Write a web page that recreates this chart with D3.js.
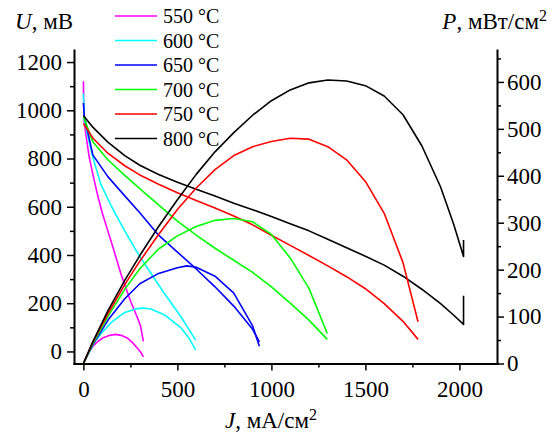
<!DOCTYPE html>
<html>
<head>
<meta charset="utf-8">
<script src="https://cdn.jsdelivr.net/npm/d3@7"></script>
<style>
  body { margin: 0; background: #fff; }
  svg text { font-family: "Liberation Serif", "Times New Roman", Times, serif; }
</style>
</head>
<body>
<div class="plot"></div>
<script>
"use strict";

// temperatures (legend) and line colours
const temps = ["550 °C", "600 °C", "650 °C", "700 °C", "750 °C", "800 °C"];
const colors = ["#FF00FF", "#00FFFF", "#0000FF", "#00FF00", "#FF0000", "#000000"];

// U(J) curves, mV vs mA/cm2
const jU550 = [0, 3, 15, 30, 50, 75, 100, 130, 160, 200, 250, 290, 305, 319];
const u550 = [1120, 960, 890, 810, 735, 650, 575, 500, 425, 320, 210, 135, 102, 42];
const jU600 = [0, 5, 30, 56, 92, 150, 216, 287, 359, 430, 519, 597];
const u600 = [1070, 960, 870, 790, 695, 600, 505, 410, 324, 241, 144, 47];
const jU650 = [0, 5, 50, 130, 220, 300, 400, 500, 600, 700, 800, 900, 936];
const u650 = [1030, 975, 815, 725, 645, 575, 482, 412, 342, 268, 188, 92, 40];
const jU700 = [0, 50, 130, 220, 300, 400, 500, 600, 700, 800, 900, 1000, 1100, 1200, 1297];
const u700 = [975, 870, 795, 730, 675, 608, 540, 482, 428, 378, 328, 268, 200, 130, 50];
const jU750 = [0, 50, 130, 220, 300, 400, 500, 600, 700, 800, 900, 1000, 1100, 1200, 1300, 1400, 1500, 1600, 1700, 1780];
const u750 = [945, 885, 822, 770, 732, 693, 658, 626, 595, 562, 525, 482, 440, 398, 355, 310, 260, 198, 125, 50];
const jU800 = [0, 50, 130, 220, 300, 400, 500, 600, 700, 800, 900, 1000, 1100, 1200, 1300, 1400, 1500, 1600, 1700, 1800, 1900, 1970, 2022, 2022];
const u800 = [978, 930, 868, 812, 772, 734, 702, 673, 645, 615, 588, 560, 530, 500, 465, 430, 395, 358, 312, 258, 198, 150, 112, 231];

// P(J) curves, mW/cm2 vs mA/cm2
const jP550 = [0, 15, 30, 53, 80, 106, 140, 170, 200, 231, 260, 284, 305, 319];
const p550 = [0, 14, 25, 38, 48, 55, 60, 62, 60, 55, 45, 34, 24, 14];
const jP600 = [0, 56, 92, 150, 216, 287, 320, 359, 430, 519, 560, 597];
const p600 = [0, 44, 63, 88, 108, 117, 118, 116, 104, 76, 55, 29];
const jP650 = [0, 50, 130, 220, 300, 400, 500, 550, 600, 700, 800, 900, 936];
const p650 = [0, 40, 92, 138, 170, 192, 204, 208, 205, 186, 150, 80, 37];
const jP700 = [0, 50, 130, 220, 300, 400, 500, 600, 700, 800, 900, 1000, 1100, 1200, 1297];
const p700 = [0, 42, 100, 158, 202, 244, 272, 292, 305, 309, 302, 275, 225, 160, 64];
const jP750 = [0, 50, 130, 220, 300, 400, 500, 600, 700, 800, 900, 1000, 1100, 1200, 1300, 1400, 1500, 1600, 1700, 1780];
const p750 = [0, 45, 106, 168, 218, 275, 328, 374, 413, 443, 462, 473, 480, 478, 462, 434, 388, 320, 215, 89];
const jP800 = [0, 50, 130, 220, 300, 400, 500, 600, 700, 800, 900, 1000, 1100, 1200, 1300, 1400, 1500, 1600, 1700, 1800, 1900, 1970, 2022, 2022];
const p800 = [0, 46, 112, 177, 230, 292, 349, 403, 451, 492, 529, 560, 583, 598, 604, 602, 592, 570, 530, 464, 376, 296, 228, 263];

// axis ticks
const jTicks = [0, 500, 1000, 1500, 2000];
const jMinor = [250, 750, 1250, 1750];
const uTicks = [0, 200, 400, 600, 800, 1000, 1200];
const uMinor = [100, 300, 500, 700, 900, 1100];
const pTicks = [0, 100, 200, 300, 400, 500, 600];
const pMinor = [50, 150, 250, 350, 450, 550, 650];

const uCurves = [[jU550, u550], [jU600, u600], [jU650, u650], [jU700, u700], [jU750, u750], [jU800, u800]];
const pCurves = [[jP550, p550], [jP600, p600], [jP650, p650], [jP700, p700], [jP750, p750], [jP800, p800]];

const FONT = "'Liberation Serif', 'Times New Roman', Times, serif";
const width = 556, height = 435;
const svg = d3.select(".plot").append("svg")
    .attr("width", width)
    .attr("height", height);

const x = d3.scaleLinear().domain([-50, 2200]).range([74, 497]);
const yU = d3.scaleLinear().domain([-50, 1250]).range([363.5, 50]);
const yP = d3.scaleLinear().domain([0, 668]).range([363.5, 50]);

const plot = svg.append("g");

// curves
function drawCurves(curves, y) {
    curves.forEach((c, i) => {
        const pts = c[0].map((j, k) => [j, c[1][k]]);
        plot.append("path")
            .datum(pts)
            .attr("fill", "none")
            .attr("stroke", colors[i])
            .attr("stroke-width", 1.6)
            .attr("stroke-linejoin", "round")
            .attr("d", d3.line().x(d => x(d[0])).y(d => y(d[1])));
    });
}
drawCurves(uCurves, yU);
drawCurves(pCurves, yP);

// axes
function styleAxis(g) {
    g.attr("font-family", null);
    g.select(".domain").attr("stroke-width", 2).attr("stroke-linecap", "square");
    g.selectAll(".tick line").attr("stroke-width", 1.5);
    g.selectAll("text").attr("fill", "#000")
        .style("font-family", FONT)
        .style("font-size", "23px");
}
function minor(g) {
    g.select(".domain").remove();
    g.selectAll(".tick line").attr("stroke-width", 1.5);
}
const fmt = d3.format("d");

svg.append("g")
    .attr("transform", "translate(0,363.5)")
    .call(d3.axisBottom(x).tickValues(jTicks).tickFormat(fmt).tickSize(7).tickSizeOuter(0).tickPadding(10))
    .call(styleAxis);
svg.append("g")
    .attr("transform", "translate(0,363.5)")
    .call(d3.axisBottom(x).tickValues(jMinor).tickSize(4).tickFormat(""))
    .call(minor);

svg.append("g")
    .attr("transform", "translate(74,0)")
    .call(d3.axisLeft(yU).tickValues(uTicks).tickFormat(fmt).tickSize(7).tickSizeOuter(0).tickPadding(5))
    .call(styleAxis);
svg.append("g")
    .attr("transform", "translate(74,0)")
    .call(d3.axisLeft(yU).tickValues(uMinor).tickSize(4).tickFormat(""))
    .call(minor);

svg.append("g")
    .attr("transform", "translate(497,0)")
    .call(d3.axisRight(yP).tickValues(pTicks).tickFormat(fmt).tickSize(7).tickSizeOuter(0).tickPadding(3))
    .call(styleAxis);
svg.append("g")
    .attr("transform", "translate(497,0)")
    .call(d3.axisRight(yP).tickValues(pMinor).tickSize(4).tickFormat(""))
    .call(minor);

// axis titles
const tU = svg.append("text").attr("x", 15).attr("y", 29)
    .style("font-family", FONT).style("font-size", "23px");
tU.append("tspan").attr("font-style", "italic").text("U");
tU.append("tspan").text(", мВ");

const tP = svg.append("text").attr("x", 547).attr("y", 29)
    .style("font-family", FONT).style("font-size", "23px")
    .attr("text-anchor", "end");
tP.append("tspan").attr("font-style", "italic").text("P");
tP.append("tspan").text(", мВт/см");
tP.append("tspan").attr("font-size", "16px").attr("dy", -8).text("2");

const tJ = svg.append("text").attr("x", 271).attr("y", 428)
    .style("font-family", FONT).style("font-size", "23px")
    .attr("text-anchor", "middle");
tJ.append("tspan").attr("font-style", "italic").text("J");
tJ.append("tspan").text(", мА/см");
tJ.append("tspan").attr("font-size", "16px").attr("dy", -8).text("2");

// legend
const legend = svg.append("g");
temps.forEach((t, i) => {
    const ly = 16 + i * 24.5;
    legend.append("line")
        .attr("x1", 115).attr("x2", 157)
        .attr("y1", ly).attr("y2", ly)
        .attr("stroke", colors[i])
        .attr("stroke-width", 1.6);
    legend.append("text")
        .attr("x", 163).attr("y", ly + 7)
        .style("font-family", FONT)
        .style("font-size", "20px")
        .text(t);
});
</script>
</body>
</html>
